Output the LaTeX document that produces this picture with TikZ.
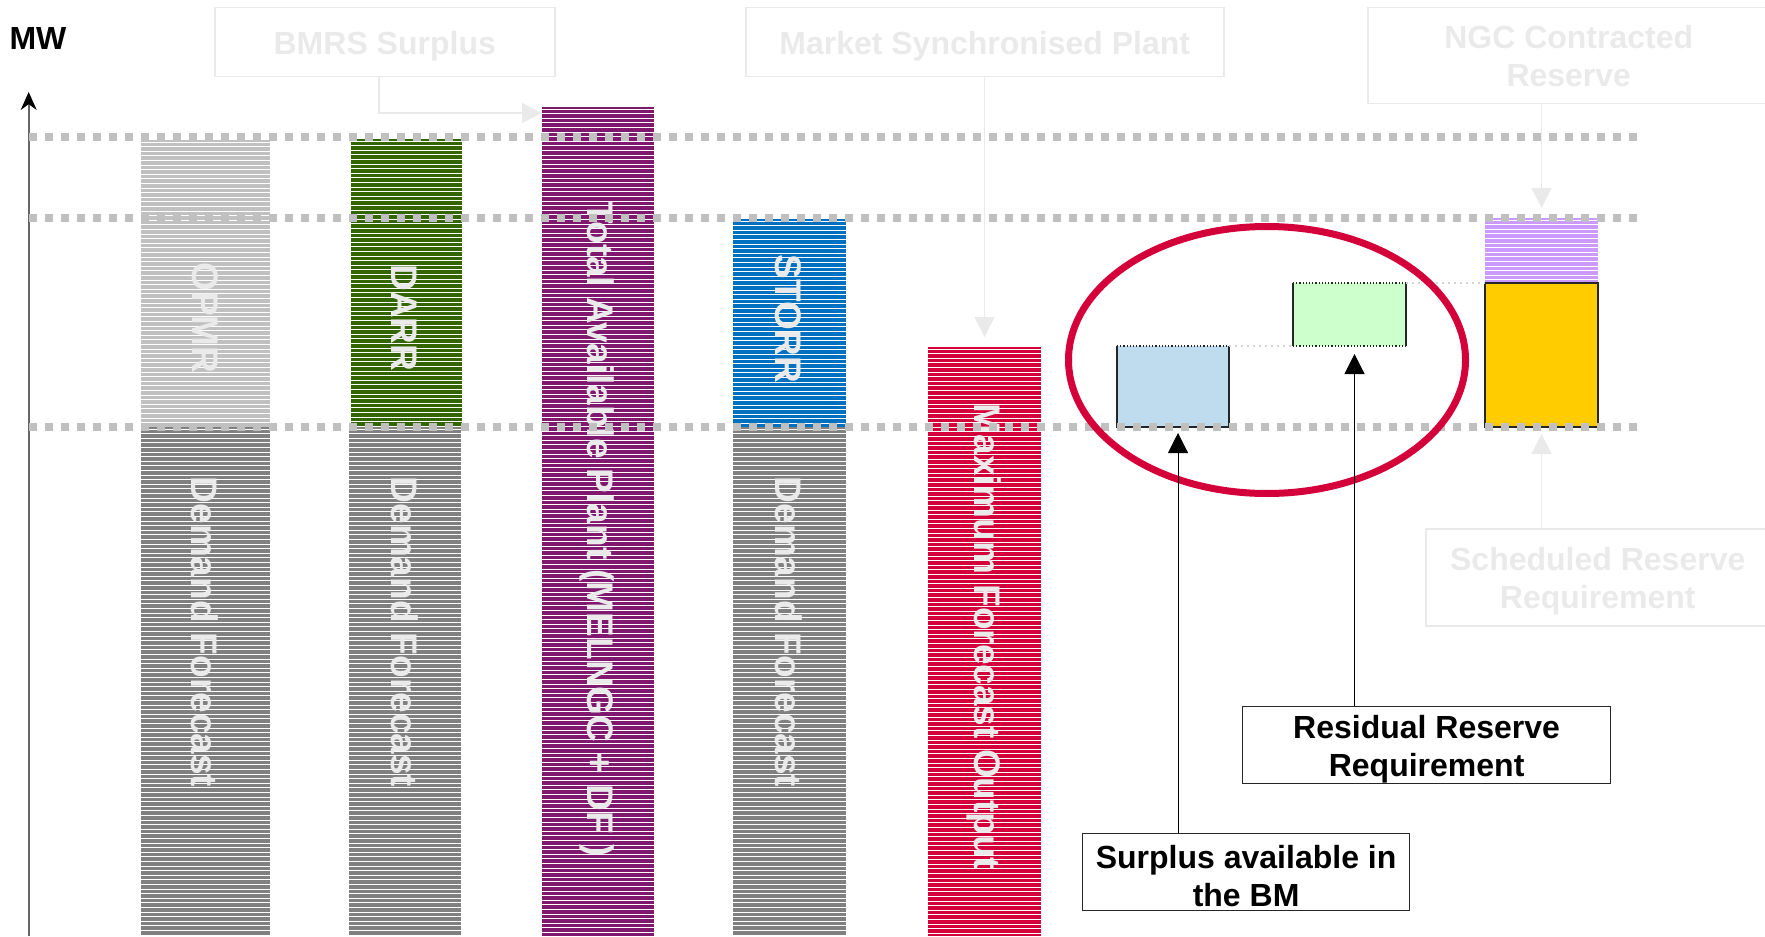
\documentclass[tikz,border=0pt]{standalone}
\usepackage{fontspec}
\setmainfont{Liberation Sans}
\usetikzlibrary{arrows.meta}
\def\px{0.5pt}
\def\gridstart{29}
\def\gridend{1638}
\newcommand{\lowtext}{\rule{0pt}{15.5pt}}

\definecolor{faint}{RGB}{234,234,234}
\definecolor{gridgrey}{RGB}{192,192,192}
\definecolor{opmrgrey}{RGB}{192,192,192}
\definecolor{demandgrey}{RGB}{128,128,128}
\definecolor{darrgreen}{RGB}{51,102,0}
\definecolor{tapurple}{RGB}{128,24,112}
\definecolor{storrblue}{RGB}{0,112,192}
\definecolor{mfored}{RGB}{212,0,58}
\definecolor{ngclilac}{RGB}{204,153,255}
\definecolor{srryellow}{RGB}{255,204,0}
\definecolor{resgreen}{RGB}{204,255,204}
\definecolor{surblue}{RGB}{190,220,237}

\tikzset{
  barsize/.style 2 args={minimum width=#1*\px, minimum height=#2*\px},
  block/.style={anchor=north west, inner sep=0pt, outer sep=0pt, fill=#1},
  stripes/.style={path picture={
    \foreach \k in {0,...,185}
      \draw[white, line width=0.42pt]
        ([yshift=-\k*2.3pt-1pt]path picture bounding box.north west) --
        ([yshift=-\k*2.3pt-1pt]path picture bounding box.north east);}},
  bar/.style={block=#1, stripes},
  barlabel/.style={rotate=-90, text=faint, inner sep=0pt,
    font=\fontsize{18.5}{20}\selectfont\bfseries},
  faintbox/.style={anchor=north west, draw=faint, line width=0.75pt,
    text=faint, align=center, inner sep=0pt,
    font=\fontsize{16}{19}\selectfont\bfseries},
  notebox/.style={anchor=north west, draw=black!85, line width=0.6pt,
    align=center, inner sep=0pt, font=\fontsize{16}{19}\selectfont\bfseries},
  edge/.style={draw=black!85, line width=0.6pt},
  link/.style={draw=faint!90!black, line width=1pt, dotted},
  gridline/.style={draw=gridgrey, line width=4pt, dash pattern=on 4pt off 4pt},
  faintarrow/.style={draw=faint, line width=0.75pt,
    -{Triangle[length=10pt,width=10pt]}},
  notearrow/.style={draw=black, line width=0.5pt,
    -{Triangle[length=10pt,width=10pt]}},
  axisline/.style={draw=black!60, line width=1pt,
    -{Stealth[black,length=9pt,width=8pt]}},
  ring/.style={draw=mfored, line width=3.5pt}
}

\begin{document}
\begin{tikzpicture}[x=\px, y=-\px]
\useasboundingbox (0,0) rectangle (1765,936);

% axis
\coordinate (origin) at (28.7,936);
\coordinate (ytop) at (28.7,92);
\draw[axisline] (origin) -- (ytop);
\node[inner sep=0pt, font=\fontsize{16}{19}\selectfont\bfseries] (mw) at (38,38.5) {MW};

% stacked bars
\node[bar=opmrgrey, barsize={129}{287}] (opmr) at (141,140) {};
\node[bar=demandgrey, barsize={129}{509}] (opmrdf) at (141,427) {};
\node[bar=darrgreen, barsize={111}{288}] (darr) at (351,139) {};
\node[bar=demandgrey, barsize={112}{509}] (darrdf) at (349,427) {};
\node[bar=tapurple, barsize={112}{829}] (tap) at (542,107) {};
\node[bar=storrblue, barsize={113}{208}] (storr) at (733,219) {};
\node[bar=demandgrey, barsize={113}{509}] (storrdf) at (733,427) {};
\node[bar=mfored, barsize={113}{589}] (mfo) at (928,347) {};
\node[bar=ngclilac, barsize={113}{65}] (ngcres) at (1485,218) {};

% reserve blocks
\node[block=srryellow, draw=black!85, line width=0.6pt, barsize={113}{144}] (srr) at (1485,283) {};
\node[block=resgreen, barsize={113}{63}] (resreq) at (1293,283) {};
\node[block=surblue, barsize={112}{81}] (surbm) at (1117,346) {};
\draw[edge] (surbm.north west) -- (surbm.south west) -- (surbm.south east) -- (surbm.north east);
\draw[edge, densely dotted] (surbm.north west) -- (surbm.north east);
\draw[edge] (resreq.north west) -- (resreq.south west);
\draw[edge] (resreq.north east) -- (resreq.south east);
\draw[edge, densely dotted] (resreq.north west) -- (resreq.north east);
\draw[edge, densely dotted] (resreq.south west) -- (resreq.south east);
\draw[link] (surbm.north east) -- (resreq.south west);
\draw[link] (resreq.north east) -- (srr.north west);

% bar labels
\node[barlabel] (opmrlab) at (205,318) {OPMR};
\node[barlabel] (darrlab) at (404,318) {DARR};
\node[barlabel] (storrlab) at (788,319) {STORR};
\node[barlabel] (taplab) at (597,529) {Total Available Plant (MELNGC + DF )};
\node[barlabel] (mfolab) at (984,637) {Maximum Forecast Output};
\foreach \b/\x in {opmrdf/205, darrdf/405, storrdf/789}{
   \node[barlabel] (\b lab) at (\x,632) {Demand Forecast};
}

% levels
\foreach \y in {137,218,427}{
   \draw[gridline] (\gridstart,\y) -- (\gridend,\y);
}

% highlight
\draw[ring] (1267,360) ellipse [x radius=198.5, y radius=133.5];

% faint captions
\node[faintbox, barsize={340}{69}] (bmrs) at (214,7) {\lowtext BMRS Surplus};
\node[faintbox, barsize={478}{69}] (msp) at (745,7) {\lowtext Market Synchronised Plant};
\node[faintbox, barsize={402}{96}] (ngc) at (1367,7) {NGC Contracted\\Reserve};
\node[faintbox, barsize={344}{97}] (sched) at (1425,528) {\lowtext Scheduled Reserve\\Requirement};

\draw[faintarrow] ([xshift=-3pt]bmrs.south) |- ([yshift=-3pt]tap.north west);
\draw[faintarrow] (mfo.north |- msp.south) -- ([yshift=5pt]mfo.north);
\draw[faintarrow] (ngcres.north |- ngc.south) -- ([yshift=5pt]ngcres.north);
\draw[faintarrow] (srr.south |- sched.north) -- ([yshift=-3.5pt]srr.south);

% notes
\node[notebox, barsize={368}{77}] (residual) at (1242,706) {\lowtext Residual Reserve\\Requirement};
\node[notebox, barsize={327}{77}] (surplus) at (1082,833) {\lowtext Surplus available in\\the BM};

\coordinate (surtip) at ([xshift=2.5pt,yshift=-3pt]surbm.south);
\coordinate (restip) at ([xshift=2.5pt,yshift=-4pt]resreq.south);
\draw[notearrow] (surtip |- surplus.north) -- (surtip);
\draw[notearrow] (restip |- residual.north) -- (restip);

\end{tikzpicture}
\end{document}
